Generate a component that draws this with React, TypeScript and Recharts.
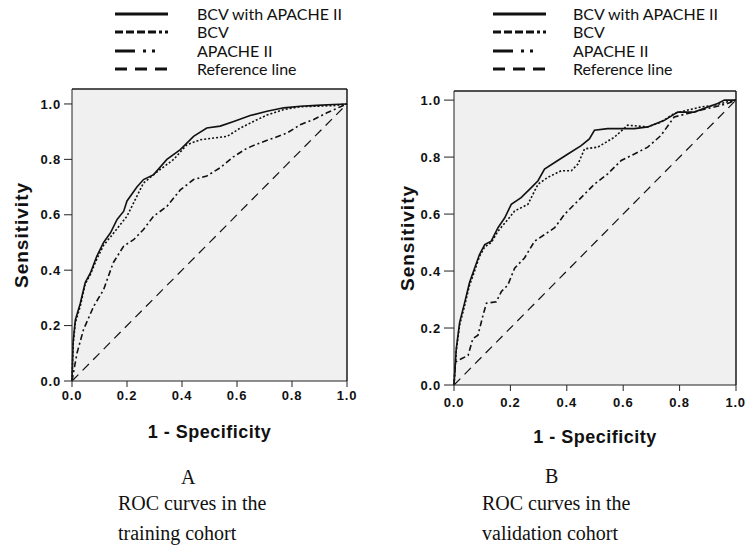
import React from "react"
import { CartesianGrid, Line, LineChart, XAxis, YAxis } from "recharts"

// training cohort (panel A)
const trainCombinedFpr = [0, 0.004, 0.012, 0.03, 0.048, 0.067, 0.09, 0.115, 0.14, 0.164, 0.188, 0.2, 0.236, 0.26, 0.297, 0.345, 0.394, 0.442, 0.49, 0.539, 0.588, 0.648, 0.709, 0.77, 0.83, 0.89, 0.95, 1]
const trainCombinedTpr = [0, 0.14, 0.22, 0.28, 0.355, 0.39, 0.45, 0.5, 0.535, 0.583, 0.613, 0.65, 0.7, 0.727, 0.745, 0.8, 0.835, 0.883, 0.913, 0.92, 0.937, 0.958, 0.974, 0.986, 0.992, 0.995, 0.998, 1]
const trainBcvFpr = [0, 0.004, 0.012, 0.03, 0.048, 0.067, 0.09, 0.115, 0.14, 0.164, 0.2, 0.224, 0.26, 0.32, 0.37, 0.418, 0.467, 0.515, 0.564, 0.612, 0.66, 0.709, 0.77, 0.83, 0.95, 1]
const trainBcvTpr = [0, 0.13, 0.21, 0.27, 0.35, 0.385, 0.44, 0.49, 0.52, 0.55, 0.595, 0.643, 0.715, 0.763, 0.8, 0.853, 0.871, 0.877, 0.883, 0.913, 0.937, 0.96, 0.98, 0.99, 0.994, 1]
const trainApacheFpr = [0, 0.018, 0.042, 0.079, 0.115, 0.15, 0.188, 0.224, 0.26, 0.297, 0.345, 0.394, 0.442, 0.49, 0.539, 0.588, 0.636, 0.685, 0.733, 0.782, 0.83, 0.879, 0.927, 0.976, 1]
const trainApacheTpr = [0, 0.1, 0.186, 0.27, 0.33, 0.427, 0.487, 0.51, 0.547, 0.595, 0.63, 0.69, 0.727, 0.74, 0.77, 0.81, 0.84, 0.86, 0.877, 0.895, 0.925, 0.944, 0.968, 0.99, 1]

// validation cohort (panel B)
const validCombinedFpr = [0, 0.008, 0.02, 0.038, 0.055, 0.073, 0.09, 0.109, 0.132, 0.156, 0.18, 0.203, 0.238, 0.274, 0.298, 0.321, 0.368, 0.404, 0.451, 0.48, 0.498, 0.545, 0.593, 0.64, 0.687, 0.746, 0.793, 0.852, 0.9, 0.935, 0.959, 1]
const validCombinedTpr = [0, 0.127, 0.22, 0.29, 0.36, 0.41, 0.457, 0.493, 0.505, 0.552, 0.587, 0.634, 0.658, 0.693, 0.717, 0.758, 0.788, 0.811, 0.84, 0.864, 0.894, 0.9, 0.9, 0.9, 0.906, 0.929, 0.958, 0.958, 0.976, 0.988, 1, 1]
const validBcvFpr = [0, 0.008, 0.02, 0.038, 0.055, 0.073, 0.09, 0.109, 0.132, 0.156, 0.191, 0.215, 0.262, 0.298, 0.333, 0.38, 0.416, 0.44, 0.463, 0.51, 0.569, 0.616, 0.687, 0.734, 0.781, 0.829, 0.876, 0.923, 0.97, 1]
const validBcvTpr = [0, 0.12, 0.21, 0.28, 0.35, 0.4, 0.45, 0.485, 0.5, 0.54, 0.581, 0.611, 0.634, 0.705, 0.729, 0.752, 0.752, 0.776, 0.829, 0.835, 0.87, 0.912, 0.906, 0.923, 0.953, 0.965, 0.976, 0.982, 0.994, 1]
const validApacheFpr = [0, 0.005, 0.026, 0.05, 0.067, 0.085, 0.103, 0.115, 0.15, 0.168, 0.191, 0.215, 0.25, 0.286, 0.321, 0.357, 0.392, 0.427, 0.463, 0.498, 0.545, 0.593, 0.64, 0.687, 0.734, 0.781, 0.829, 0.876, 0.923, 0.97, 1]
const validApacheTpr = [0, 0.08, 0.092, 0.104, 0.163, 0.175, 0.245, 0.287, 0.292, 0.328, 0.351, 0.41, 0.446, 0.505, 0.528, 0.552, 0.599, 0.634, 0.67, 0.705, 0.741, 0.788, 0.811, 0.835, 0.876, 0.941, 0.953, 0.965, 0.976, 0.988, 1]

const refFpr = [0, 1]
const refTpr = [0, 1]

const axisTicks = [0, 0.2, 0.4, 0.6, 0.8, 1.0]
const seriesNames = ["BCV with APACHE II", "BCV", "APACHE II", "Reference line"]

const curveDash = ["", "2 2", "6 3 2 3", "9 6"]
const legendDash = ["", "8 3 8 3 8 3 8 3 3 3", "20 8 3 6 3 30", "12 8"]

const toPoints = (fpr: number[], tpr: number[]) => fpr.map((x, i) => ({ fpr: x, tpr: tpr[i] }))

const tickFont = { fontFamily: "'Liberation Sans', Arial, sans-serif", fontSize: 13, fontWeight: 700, fill: "#111", letterSpacing: 0.8 }
const labelFont = { fontFamily: "'Liberation Sans', Arial, sans-serif", fontSize: 18, fontWeight: 700, fill: "#111", letterSpacing: 0.5 }

const CHART_H = 470
const XAXIS_H = 30

function RocPanel({ left, width, top, curves, yTop, yAxisWidth, marginRight, marginBottom, ylabelOffset, xlabelOffset, xTickMargin, yTickSize }: any) {
  const plotL = yAxisWidth
  const plotR = width - marginRight
  const plotB = CHART_H - marginBottom - XAXIS_H
  return (
    <div style={{ position: "absolute", left, top: 0, width, height: CHART_H }}>
      <LineChart width={width} height={CHART_H} margin={{ top, right: marginRight, left: 0, bottom: marginBottom }}>
        <CartesianGrid fill="#f0f0f0" horizontal={false} vertical={false} />
        <XAxis
          dataKey="fpr"
          type="number"
          domain={[0, 1]}
          ticks={axisTicks}
          tickFormatter={(v) => v.toFixed(1)}
          tick={tickFont}
          tickSize={6}
          tickMargin={xTickMargin}
          stroke="#222"
          height={XAXIS_H}
          allowDuplicatedCategory={false}
          label={{ value: "1 - Specificity", position: "bottom", offset: xlabelOffset, style: labelFont }}
        />
        <YAxis
          type="number"
          domain={[0, yTop]}
          ticks={axisTicks}
          tickFormatter={(v) => v.toFixed(1)}
          tick={tickFont}
          tickSize={yTickSize}
          tickMargin={3}
          width={yAxisWidth}
          stroke="#222"
          label={{
            value: "Sensitivity",
            angle: -90,
            position: "insideLeft",
            offset: ylabelOffset,
            style: { ...labelFont, fontSize: 19, letterSpacing: 1, textAnchor: "middle" },
          }}
        />
        {curves.map((c: any, i: number) => (
          <Line
            key={seriesNames[i]}
            name={seriesNames[i]}
            data={c}
            dataKey="tpr"
            type="linear"
            stroke="#111"
            strokeWidth={i === 3 ? 1.2 : 1.6}
            strokeDasharray={curveDash[i]}
            dot={false}
            isAnimationActive={false}
          />
        ))}
      </LineChart>
      {/* frame: top and right edges of the plot box */}
      <svg
        width={width}
        height={CHART_H}
        style={{ position: "absolute", left: 0, top: 0, zIndex: 5, pointerEvents: "none" }}
      >
        <line x1={plotL} x2={plotR} y1={top} y2={top} stroke="#1a1a1a" strokeWidth={1.5} />
        <line x1={plotR} x2={plotR} y1={top} y2={plotB} stroke="#1a1a1a" strokeWidth={1.5} />
      </svg>
    </div>
  )
}

function LegendBlock({ lineLeft, textLeft }: { lineLeft: number; textLeft: number }) {
  return (
    <div style={{ position: "absolute", left: 0, top: 5 }}>
      {seriesNames.map((name, i) => (
        <div key={name} style={{ position: "absolute", top: i * 18.3, left: 0, height: 18, width: 400 }}>
          <svg width={54} height={18} style={{ position: "absolute", left: lineLeft, top: 0 }}>
            <line x1={0} x2={53} y1={9} y2={9} stroke="#111" strokeWidth={2.8} strokeDasharray={legendDash[i]} />
          </svg>
          <span
            style={{
              position: "absolute",
              left: textLeft,
              top: 0,
              lineHeight: "18px",
              fontFamily: "Lato, 'Open Sans', sans-serif",
              fontSize: 16,
              color: "#111",
              whiteSpace: "nowrap",
            }}
          >
            {name}
          </span>
        </div>
      ))}
    </div>
  )
}

const captionStyle: React.CSSProperties = {
  position: "absolute",
  fontFamily: "'Liberation Serif', 'Times New Roman', serif",
  fontSize: 20,
  lineHeight: "24px",
  color: "#111",
  whiteSpace: "nowrap",
}

export default function App() {
  const trainCurves = [
    toPoints(trainCombinedFpr, trainCombinedTpr),
    toPoints(trainBcvFpr, trainBcvTpr),
    toPoints(trainApacheFpr, trainApacheTpr),
    toPoints(refFpr, refTpr),
  ]
  const validCurves = [
    toPoints(validCombinedFpr, validCombinedTpr),
    toPoints(validBcvFpr, validBcvTpr),
    toPoints(validApacheFpr, validApacheTpr),
    toPoints(refFpr, refTpr),
  ]
  return (
    <div style={{ position: "absolute", left: 0, top: 0, width: 745, height: 547, background: "#fff", overflow: "hidden" }}>
      <RocPanel
        left={0}
        width={372}
        top={89}
        curves={trainCurves}
        yTop={1.054}
        yAxisWidth={72}
        marginRight={25}
        marginBottom={59}
        ylabelOffset={21}
        xlabelOffset={14}
        xTickMargin={4}
        yTickSize={8}
      />
      <RocPanel
        left={380}
        width={365}
        top={91}
        curves={validCurves}
        yTop={1.032}
        yAxisWidth={74}
        marginRight={9}
        marginBottom={55}
        ylabelOffset={27}
        xlabelOffset={15}
        xTickMargin={7}
        yTickSize={10}
      />
      <LegendBlock lineLeft={115} textLeft={197} />
      <LegendBlock lineLeft={493} textLeft={573} />

      <div style={{ ...captionStyle, left: 181, top: 465 }}>A</div>
      <div style={{ ...captionStyle, left: 118, top: 491 }}>ROC curves in the</div>
      <div style={{ ...captionStyle, left: 118, top: 521 }}>training cohort</div>
      <div style={{ ...captionStyle, left: 545, top: 464 }}>B</div>
      <div style={{ ...captionStyle, left: 482, top: 491 }}>ROC curves in the</div>
      <div style={{ ...captionStyle, left: 482, top: 521 }}>validation cohort</div>
    </div>
  )
}
